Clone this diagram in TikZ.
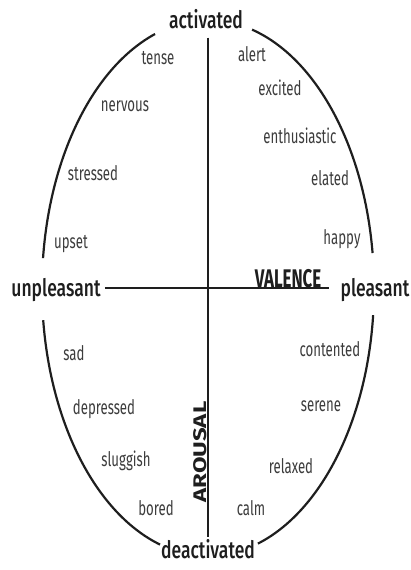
\documentclass[tikz,border=0pt]{standalone}
\usepackage{fontspec}
\setmainfont{Fira Sans}[FakeStretch=0.66]
\newfontfamily\bigfont{Fira Sans Medium}[FakeStretch=0.73]
\newfontfamily\axisfont{Fira Sans}
\usepackage{xcolor}
\usepackage{tikz}
\usetikzlibrary{positioning}
\definecolor{wordgray}{HTML}{3C3C3C}
\definecolor{inkblack}{HTML}{1E1E1E}

\begin{document}
\begin{tikzpicture}[x=1pt, y=1pt,
    mood/.style={font=\fontsize{20}{20}\selectfont, text=wordgray, inner sep=1pt},
    pole/.style={font=\bigfont\fontsize{24}{24}\selectfont, text=inkblack, inner sep=2pt, anchor=base},
    axisname/.style={font=\bfseries\fontsize{25.5}{25.5}\selectfont, text=inkblack, inner sep=0pt, anchor=base},
    rim/.style={line width=2.2pt, inkblack}]
  \def\ra{166pt}
  \def\rb{268pt}
  \useasboundingbox (-208,-282) rectangle (202,288);
  \coordinate (o) at (0,0);

  \node[pole] (act) at (-2,259) {activated};
  \node[pole] (deact) at (0,-270) {deactivated};
  \node[pole] (unpl) at (-152,-8) {unpleasant};
  \node[pole] (pleas) at (167,-8) {pleasant};

  \node[axisname] (valence) at (80,0.8) {VALENCE};
  \node[axisname, font=\axisfont\bfseries\fontsize{24}{24}\selectfont,
        xscale=0.76, rotate=90] (arousal) at (-1,-164) {AROUSAL};

  \node[mood] (tense) at (-50,230) {tense};
  \node[mood] (nervous) at (-83,182) {nervous};
  \node[mood] (stressed) at (-115,115) {stressed};
  \node[mood] (upset) at (-137,44) {upset};
  \node[mood] (sad) at (-134,-65) {sad};
  \node[mood] (depressed) at (-104,-121) {depressed};
  \node[mood] (sluggish) at (-82,-173) {sluggish};
  \node[mood] (bored) at (-52,-220) {bored};
  \node[mood] (alert) at (44,234) {alert};
  \node[mood] (excited) at (72,200) {excited};
  \node[mood] (enthus) at (92,152) {enthusiastic};
  \node[mood] (elated) at (122,110) {elated};
  \node[mood] (happy) at (134,49) {happy};
  \node[mood] (contented) at (122,-61) {contented};
  \node[mood] (serene) at (113,-118) {serene};
  \node[mood] (relaxed) at (83,-178) {relaxed};
  \node[mood] (calm) at (43,-220) {calm};

  \draw[line width=1.8pt, inkblack, shorten <=6pt] (o |- act.south) -- (o |- deact.north);
  \draw[line width=1.8pt, inkblack, shorten <=2pt, shorten >=9pt] (unpl.east |- o) -- (pleas.west |- o);

  \draw[rim] (o) ++(7.5:{\ra} and {\rb}) arc[start angle=7.5, end angle=74.6, x radius=\ra, y radius=\rb];
  \draw[rim] (o) ++(108.6:{\ra} and {\rb}) arc[start angle=108.6, end angle=173.6, x radius=\ra, y radius=\rb];
  \draw[rim] (o) ++(186.9:{\ra} and {\rb}) arc[start angle=186.9, end angle=253.2, x radius=\ra, y radius=\rb];
  \draw[rim] (o) ++(287.5:{\ra} and {\rb}) arc[start angle=287.5, end angle=354.2, x radius=\ra, y radius=\rb];
\end{tikzpicture}
\end{document}
